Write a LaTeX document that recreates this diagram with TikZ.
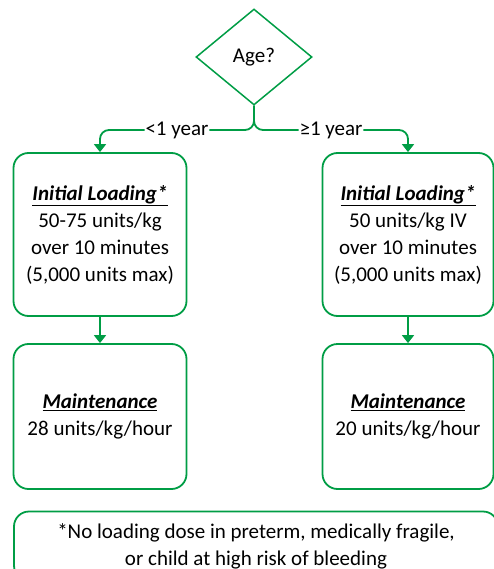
\documentclass[tikz,border=0pt]{standalone}
\usepackage{fontspec}
\setmainfont{Carlito}
\usetikzlibrary{shapes.geometric,arrows.meta}
\definecolor{grn}{RGB}{0,157,69}
\tikzset{
  box/.style={draw=grn, line width=1.8pt, rounded corners=15pt, align=center, inner sep=0pt},
  conn/.style={draw=grn, line width=1.8pt, -{Triangle[width=12pt,length=8pt]}, rounded corners=9pt},
  lbl/.style={fill=white, inner sep=1pt},
}
\newcommand{\hd}[1]{\underline{\textbf{\textit{#1}}}}
\begin{document}
\begin{tikzpicture}[x=1pt,y=-1pt, font=\fontsize{21}{27}\selectfont]
\useasboundingbox (0,0) rectangle (494,569);
\node[diamond, draw=grn, line width=1.5pt, minimum width=116pt, minimum height=96pt, shape aspect=1.2, inner sep=0pt] (age) at (254,57) {Age?};
\coordinate (j) at (254,130);
\node[box, minimum width=173pt, minimum height=163pt] (l1) at (100,234.5) {\hd{Initial Loading*}\\50-75 units/kg\\over 10 minutes\\(5,000 units max)};
\node[box, minimum width=171pt, minimum height=163pt] (r1) at (408,234.5) {\hd{Initial Loading*}\\50 units/kg IV\\over 10 minutes\\(5,000 units max)};
\node[box, minimum width=173pt, minimum height=145pt] (l2) at (100,416.5) {\hd{Maintenance}\\28 units/kg/hour};
\node[box, minimum width=171pt, minimum height=145pt] (r2) at (408,416.5) {\hd{Maintenance}\\20 units/kg/hour};
\node[box, minimum width=484pt, minimum height=69pt] (fn) at (256,546) {*No loading dose in preterm, medically fragile,\\or child at high risk of bleeding};
\draw[conn] (age.south) -- (j) -| node[lbl, pos=0.25] {<1 year} (l1.north);
\draw[conn] (age.south) -- (j) -| node[lbl, pos=0.25] {≥1 year} (r1.north);
\draw[conn] (l1.south) -- (l2.north);
\draw[conn] (r1.south) -- (r2.north);
\end{tikzpicture}
\end{document}
